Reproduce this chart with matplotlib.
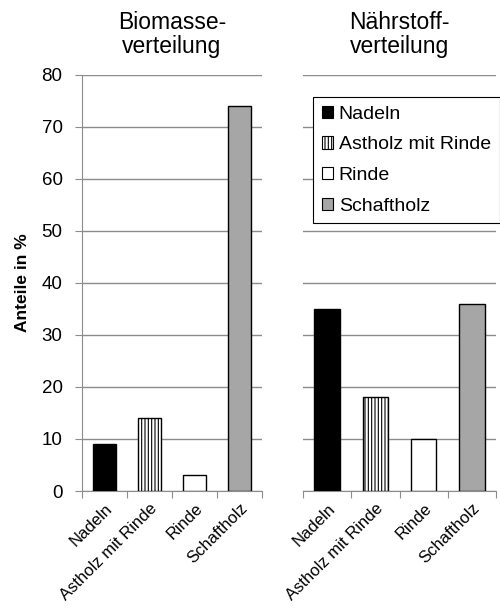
import numpy as np
import matplotlib
matplotlib.use('Agg')
import matplotlib.pyplot as plt
from matplotlib.patches import Patch

plt.rcParams['font.family'] = ['Liberation Sans', 'DejaVu Sans']
plt.rcParams['hatch.linewidth'] = 0.8

kategorien = ['Nadeln', 'Astholz mit Rinde', 'Rinde', 'Schaftholz']
biomasse = [9, 14, 3, 74]
naehrstoff = [35, 18, 10, 36]
farben = ['black', 'white', 'white', '#a6a6a6']
schraffur = [None, '|||||', None, None]
titel = ['Biomasse-\nverteilung', 'Nährstoff-\nverteilung']

fig = plt.figure(figsize=(5, 6.14), dpi=100)
ax1 = fig.add_axes([0.164, 0.2003, 0.36, 0.678])
ax2 = fig.add_axes([0.606, 0.2003, 0.386, 0.678])

grau = '#8c8c8c'
x = np.arange(len(kategorien))
for ax, werte, t in [(ax1, biomasse, titel[0]), (ax2, naehrstoff, titel[1])]:
    for i in range(len(werte)):
        ax.bar(x[i], werte[i], width=0.53, color=farben[i], hatch=schraffur[i],
               edgecolor='black', linewidth=1.0, zorder=3)
    ax.set_xlim(-0.5, len(kategorien) - 0.5)
    ax.set_ylim(0, 80)
    ax.set_yticks(range(0, 81, 10))
    ax.yaxis.grid(True, color=grau, linewidth=1.0, zorder=0)
    ax.set_xticks(np.arange(-0.5, len(kategorien), 1.0), minor=False)
    ax.set_xticklabels([])
    ax.set_xticks(x, minor=True)
    ax.set_xticklabels(kategorien, minor=True, rotation=45, ha='right',
                       rotation_mode='anchor', fontsize=12)
    ax.tick_params(axis='x', which='minor', length=0, pad=7)
    ax.tick_params(axis='x', which='major', length=5, color=grau, direction='out')
    for s in ['top', 'right']:
        ax.spines[s].set_visible(False)
    ax.spines['bottom'].set_color(grau)
    ax.spines['left'].set_color(grau)
    ax.set_title(t, fontsize=16.5, pad=16, linespacing=1.05)

ax1.tick_params(axis='y', length=5, color=grau, labelsize=13.5, pad=9)
ax1.set_ylabel('Anteile in %', fontsize=12.5, fontweight='bold', labelpad=8)

ax2.spines['left'].set_visible(False)
ax2.tick_params(axis='y', length=0, labelleft=False)

griffe = [Patch(facecolor=farben[i], edgecolor='black', hatch=schraffur[i],
                linewidth=0.8) for i in range(len(kategorien))]
leg = fig.legend(griffe, kategorien, loc='upper left',
                 bbox_to_anchor=(0.626, 0.842), fontsize=14,
                 frameon=True, fancybox=False, framealpha=1,
                 handlelength=0.58, handleheight=0.58, handletextpad=0.3,
                 labelspacing=0.7, borderpad=0.45, borderaxespad=0)
leg.get_frame().set_edgecolor('black')
leg.get_frame().set_linewidth(0.8)

fig.savefig('out.png', dpi=100)
